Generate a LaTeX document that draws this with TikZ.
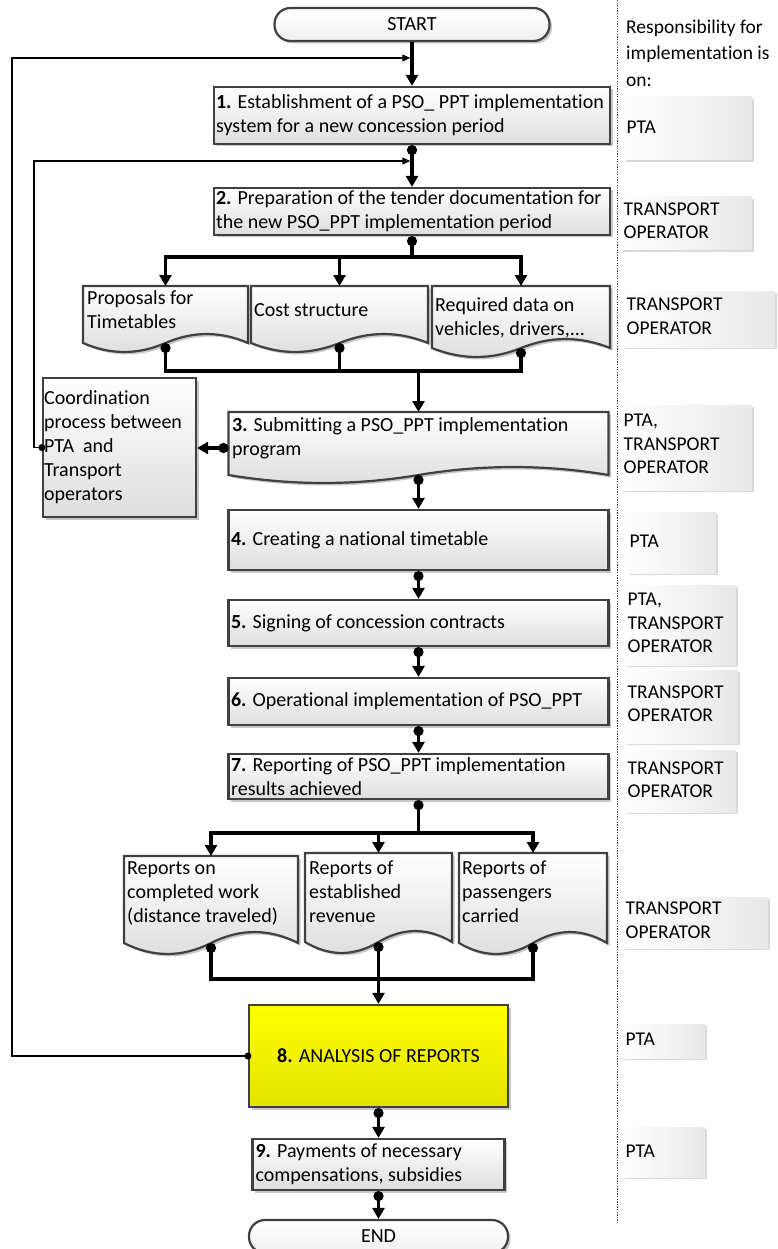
\documentclass[tikz,border=0pt]{standalone}
\usepackage{fontspec}
\setmainfont{Carlito}[Ligatures={NoCommon}]
\usetikzlibrary{arrows.meta,shadows,calc}
\definecolor{bord}{HTML}{404040}
\definecolor{yelTop}{HTML}{FFFF00}
\definecolor{yelBot}{HTML}{E2E200}
% document shape: #1 name, #2 x0, #3 x1, #4 top, #5 wave base, #6 amplitude
\newcommand\mydoc[6]{%
  \path[docsh] (#2,#4) -- (#2,#5)
    .. controls ({#2+(#3-#2)/6},{#5+1.33*#6}) and ({#2+(#3-#2)/3},{#5+1.33*#6}) .. ({(#2+#3)/2},#5)
    .. controls ({#2+2*(#3-#2)/3},{#5-1.33*#6}) and ({#2+5*(#3-#2)/6},{#5-1.33*#6}) .. (#3,#5)
    -- (#3,#4) -- cycle;
  \coordinate (#1-t) at ({(#2+#3)/2},#4);
  \coordinate (#1-b) at ({(#2+#3)/2},#5);
}
% responsibility label: #1 name, #2 x0, #3 x1, #4 y0, #5 y1, #6 text centre y, #7 text
\newcommand\mylab[7]{%
  \path[labbox] (#2,#4) rectangle (#3,#5);
  \node[labtxt] (#1) at ({#2+2.5},#6) {#7};
}
\begin{document}
\begin{tikzpicture}[x=1pt,y=-1pt,
  font=\fontsize{20pt}{24pt}\selectfont,
  shad/.style={drop shadow={shadow xshift=2.5pt,shadow yshift=-2.5pt,fill=black,opacity=0.22}},
  proc/.style={rectangle, draw=bord, line width=2.2pt, top color=white, bottom color=black!13, shad, inner sep=0pt},
  docsh/.style={draw=bord, line width=2.2pt, top color=white, bottom color=black!13, shad},
  term/.style={rectangle, rounded corners=16pt, draw=bord, line width=2.2pt, top color=white, bottom color=black!6, shad, inner sep=0pt},
  txt/.style={align=left, inner sep=0pt, anchor=west},
  main/.style={line width=3.3pt, black},
  arr/.style={-{Triangle[length=11pt,width=12pt]}},
  dotarr/.style={{Circle[length=10pt]}-{Triangle[length=11pt,width=12pt]}},
  dotln/.style={{Circle[length=10pt]}-},
  loopln/.style={line width=1.1pt, black, -{Triangle[length=8pt,width=7pt]}},
  labbox/.style={left color=white, right color=black!9, drop shadow={shadow xshift=2pt,shadow yshift=-2pt,fill=black,opacity=0.15}},
  labtxt/.style={align=left, inner sep=0pt, anchor=west, font=\fontsize{19.5pt}{23.5pt}\selectfont},
]
\useasboundingbox (0,0) rectangle (778,1249);
\fill[white] (0,0) rectangle (778,1249);

% separator
\draw[bord, line width=0.9pt, dash pattern=on 1.3pt off 1.3pt] (617,0) -- (617,1222);

% header and responsibility labels
\node[txt, font=\fontsize{19.5pt}{26.5pt}\selectfont] (hdr) at (626,53) {Responsibility for\\implementation is\\on:};
\mylab{L1}{624}{752}{97}{160}{127}{PTA}
\mylab{L2}{621}{752}{197}{250}{220.5}{TRANSPORT\\OPERATOR}
\mylab{L3}{624}{775}{291}{347}{316}{TRANSPORT\\OPERATOR}
\mylab{L4}{621}{752}{405}{490}{444}{PTA,\\TRANSPORT\\OPERATOR}
\mylab{L5}{627}{716}{512}{573}{541}{PTA}
\mylab{L6}{625}{736}{585}{665}{623}{PTA,\\TRANSPORT\\OPERATOR}
\mylab{L7}{625}{738}{670}{743}{703.5}{TRANSPORT\\OPERATOR}
\mylab{L8}{625}{736}{750}{812}{779.5}{TRANSPORT\\OPERATOR}
\mylab{L9}{623}{768}{897}{948}{920}{TRANSPORT\\OPERATOR}
\mylab{L10}{623}{705}{1024}{1058}{1039}{PTA}
\mylab{L11}{623}{705}{1127}{1177}{1151}{PTA}

% terminals
\node[term, minimum width=275, minimum height=33] (start) at (412,24.5) {START};
\node[term, minimum width=259, minimum height=33] (end) at (378.5,1236.5) {END};

% process boxes
\node[proc, minimum width=396, minimum height=57] (b1) at (412,115.5) {};
\node[txt] (t1) at ([xshift=3pt]b1.west) {\textbf{1.} Establishment of a PSO\_ PPT implementation\\system for a new concession period};
\node[proc, minimum width=396, minimum height=47] (b2) at (412,211.5) {};
\node[txt] (t2) at ([xshift=3pt]b2.west) {\textbf{2.} Preparation of the tender documentation for\\the new PSO\_PPT implementation period};

\mydoc{dA}{83}{248}{286}{343}{9}
\node[txt] (tA) at (87,310) {Proposals for\\Timetables};
\mydoc{dB}{251}{428}{286}{343}{9}
\node[txt] (tB) at (254,310) {Cost structure};
\mydoc{dC}{432}{610}{286}{348}{9}
\node[txt] (tC) at (435,318) {Required data on\\vehicles, drivers,...};

\mydoc{b3}{228.5}{608.5}{412}{475}{8}
\coordinate (b3-w) at (228.5,448);
\node[txt] (t3) at (232,438) {\textbf{3.} Submitting a PSO\_PPT implementation\\program};

\node[proc, minimum width=153, minimum height=139] (co) at (119.5,447.5) {};
\node[txt] (tco) at ([xshift=2pt]co.west) {Coordination\\process between\\PTA~ and\\Transport\\operators};

\node[proc, minimum width=380, minimum height=60] (b4) at (418.5,540) {};
\node[txt] (t4) at ([xshift=3.5pt]b4.west) {\textbf{4.} Creating a national timetable};
\node[proc, minimum width=380, minimum height=46] (b5) at (418.5,623) {};
\node[txt] (t5) at ([xshift=3.5pt]b5.west) {\textbf{5.} Signing of concession contracts};
\node[proc, minimum width=380, minimum height=47] (b6) at (418.5,701.5) {};
\node[txt] (t6) at ([xshift=3.5pt]b6.west) {\textbf{6.} Operational implementation of PSO\_PPT};
\node[proc, minimum width=380, minimum height=45] (b7) at (418.5,776.5) {};
\node[txt] (t7) at ([xshift=3.5pt]b7.west) {\textbf{7.} Reporting of PSO\_PPT implementation\\results achieved};

\mydoc{dD}{124}{298}{856}{943}{11}
\node[txt] (tD) at (127,893.5) {Reports on\\completed work\\(distance traveled)};
\mydoc{dE}{305}{452}{853}{942}{11}
\node[txt] (tE) at (309,892) {Reports of\\established\\revenue};
\mydoc{dF}{459}{607}{853}{943}{11}
\node[txt] (tF) at (462,892) {Reports of\\passengers\\carried};

\node[proc, top color=yelTop, bottom color=yelBot, minimum width=259, minimum height=102] (b8) at (378.5,1056) {\textbf{8.} ANALYSIS OF REPORTS};
\node[proc, minimum width=252, minimum height=51] (b9) at (378.5,1164.5) {};
\node[txt] (t9) at ([xshift=4pt]b9.west) {\textbf{9.} Payments of necessary\\compensations, subsidies};

% main connectors
\draw[main, arr] (start.south) -- (b1.north);
\draw[main, dotarr] (b1.south) -- (b2.north);
\coordinate (br1) at (412,257);
\draw[main, dotln] (b2.south) -- (br1);
\draw[main, arr] (br1) -| (dA-t);
\draw[main, arr] (br1) -| (dB-t);
\draw[main, arr] (br1) -| (dC-t);
\coordinate (mg1) at (418.5,371);
\draw[main, dotln] (dA-b) |- (mg1);
\draw[main, dotln] (dC-b) |- (mg1);
\draw[main, dotln] (dB-b) -- (dB-b |- mg1);
\draw[main, arr] (mg1) -- (b3-t);
\draw[main, dotarr] (b3-w) -- (b3-w -| co.east);
\draw[main, dotarr] (b3-b) -- (b4.north);
\draw[main, dotarr] (b4.south) -- (b5.north);
\draw[main, dotarr] (b5.south) -- (b6.north);
\draw[main, dotarr] (b6.south) -- (b7.north);
\coordinate (br2) at (418.5,833);
\draw[main, dotln] (b7.south) -- (br2);
\draw[main, arr] (br2) -| (dD-t);
\draw[main, arr] (br2) -| (dE-t);
\draw[main, arr] (br2) -| (dF-t);
\coordinate (mg2) at (378.5,979);
\draw[main, dotln] (dD-b) |- (mg2);
\draw[main, dotln] (dF-b) |- (mg2);
\draw[main, dotln] (dE-b) -- (mg2);
\draw[main, arr] (mg2) -- (b8.north);
\draw[main, dotarr] (b8.south) -- (b9.north);
\draw[main, dotarr] (b9.south) -- (end.north);

% feedback loops
\coordinate (in1) at (410.3,58);
\coordinate (lp1) at (12,58);
\draw[loopln] (b8.west) -| (lp1) -- (in1);
\fill (b8.west) circle (3.5);
\coordinate (in2) at (410.3,161);
\coordinate (lp2) at (34,161);
\draw[loopln] (co.west) -| (lp2) -- (in2);
\fill (co.west) circle (3.5);
\end{tikzpicture}
\end{document}
